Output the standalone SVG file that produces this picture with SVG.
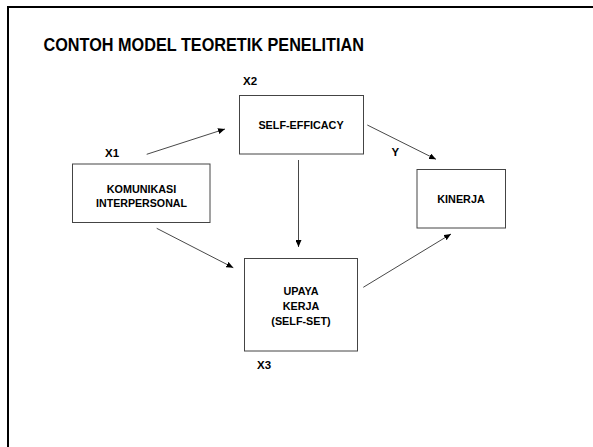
<svg xmlns="http://www.w3.org/2000/svg" width="593" height="447" viewBox="0 0 593 447">
  <style>
    text { font-family: "Liberation Sans", Arial, sans-serif; font-weight: bold; fill: #000; }
    .box { fill: #fff; stroke: #444; stroke-width: 1; }
    .lbl { font-size: 10.8px; text-anchor: middle; }
    .var { font-size: 11.5px; }
    .conn line { stroke: #333; stroke-width: 0.9; marker-end: url(#ah); }
  </style>
  <defs>
    <marker id="ah" markerUnits="userSpaceOnUse" markerWidth="8" markerHeight="6" refX="7" refY="3" orient="auto">
      <path d="M0,0 L7,3 L0,6 Z" fill="#000"/>
    </marker>
  </defs>
  <rect width="593" height="447" fill="#fff"/>
  <path d="M8,447 L8,7 L593,7" fill="none" stroke="#000" stroke-width="2"/>
  <text id="title" x="43.5" y="50.5" font-size="17.5" textLength="320.5" lengthAdjust="spacingAndGlyphs">CONTOH MODEL TEORETIK PENELITIAN</text>

  <g id="x1-komunikasi">
    <rect class="box" x="72.5" y="164" width="137.5" height="58.5"/>
    <text class="lbl" x="141.5" y="192.7">KOMUNIKASI</text>
    <text class="lbl" x="141.5" y="207" textLength="91" lengthAdjust="spacingAndGlyphs">INTERPERSONAL</text>
    <text class="var" x="105" y="156.7">X1</text>
  </g>
  <g id="x2-selfefficacy">
    <rect class="box" x="239.5" y="95.5" width="124" height="58.5"/>
    <text class="lbl" x="301" y="129.3">SELF-EFFICACY</text>
    <text class="var" x="243" y="85">X2</text>
  </g>
  <g id="x3-upaya">
    <rect class="box" x="244.5" y="258.5" width="113" height="92.5"/>
    <text class="lbl" x="301" y="295">UPAYA</text>
    <text class="lbl" x="301" y="310">KERJA</text>
    <text class="lbl" x="301" y="325">(SELF-SET)</text>
    <text class="var" x="257" y="369">X3</text>
  </g>
  <g id="y-kinerja">
    <rect class="box" x="417" y="169.5" width="88.5" height="58.5"/>
    <text class="lbl" x="461" y="203">KINERJA</text>
    <text class="var" x="391.5" y="156">Y</text>
  </g>

  <g class="conn" id="connectors">
    <line x1="146.7" y1="154.3" x2="225" y2="129"/>
    <line x1="367.3" y1="125" x2="436" y2="159.3"/>
    <line x1="298.5" y1="160" x2="298.5" y2="247"/>
    <line x1="156.7" y1="228.3" x2="233.3" y2="267.7"/>
    <line x1="363.3" y1="287.3" x2="451" y2="234"/>
  </g>
</svg>
